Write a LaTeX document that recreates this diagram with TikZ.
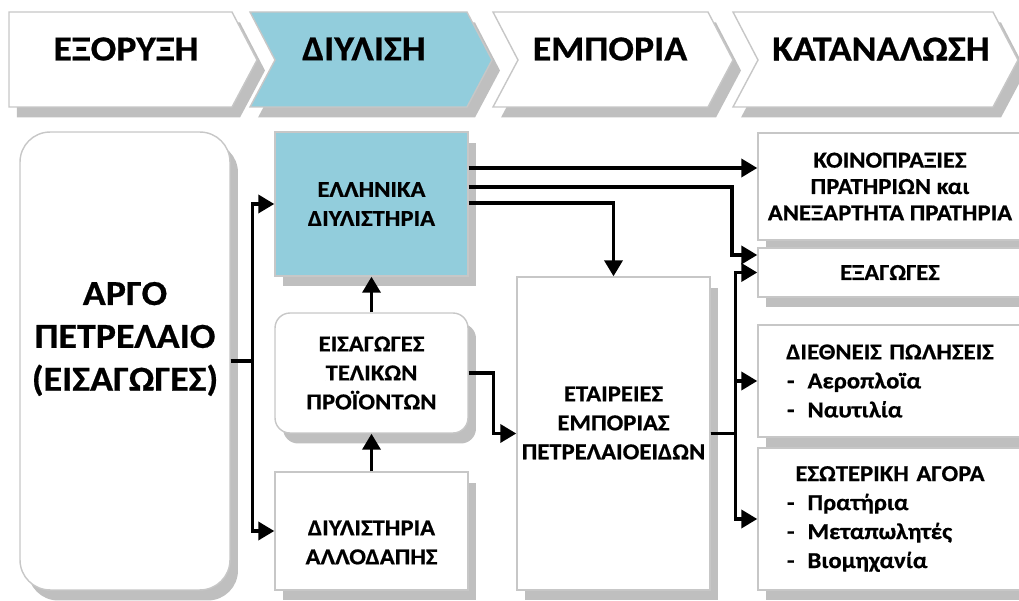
\documentclass[tikz,border=0pt]{standalone}
\usepackage{fontspec}
\setmainfont{Carlito}[BoldFont={Carlito Bold}, BoldFeatures={FakeStretch=1.08, FakeBold=0.6}]
\usetikzlibrary{arrows.meta}
\usetikzlibrary{shadows}
\definecolor{dblue}{HTML}{92CDDC}
\tikzset{
  shad/.style={drop shadow={shadow xshift=1.6mm, shadow yshift=-2.1mm, fill=black!25, opacity=1}},
  chev/.style={draw=black!22, line width=.8pt, fill=white, shad},
  box/.style={draw=black!22, line width=.8pt, fill=white, shad, minimum width=3.86cm, align=center, font=\bfseries\fontsize{13}{16.5}\selectfont},
  rbox/.style={box, minimum width=5.28cm},
  txt/.style={align=center, font=\bfseries\fontsize{13}{16.5}\selectfont},
  head/.style={font=\bfseries\fontsize{20}{24}\selectfont},
  arr/.style={-{Triangle[length=3.2mm,width=3.6mm]}, line width=2pt}
}

\begin{document}
\begin{tikzpicture}[x=0.02cm, y=-0.02cm]
\useasboundingbox (0,0) rectangle (1019,601);
\clip (0,0) rectangle (1019,601);

\path[chev] (9,12) -- (232,12) -- (257,60) -- (232,107) -- (9,107) -- cycle;
\path[chev, fill=dblue] (250,12) -- (467,12) -- (492,60) -- (467,107) -- (250,107) -- (275,60) -- cycle;
\path[chev] (493,12) -- (708,12) -- (733,60) -- (708,107) -- (493,107) -- (518,60) -- cycle;
\path[chev] (733,12) -- (993,12) -- (1018,60) -- (993,107) -- (733,107) -- (758,60) -- cycle;
\node[head] (h1) at (126,49) {ΕΞΟΡΥΞΗ};
\node[head] (h2) at (364,49) {ΔΙΥΛΙΣΗ};
\node[head] (h3) at (610,49) {ΕΜΠΟΡΙΑ};
\node[head] (h4) at (881,49) {ΚΑΤΑΝΑΛΩΣΗ};

\node[box, rounded corners=6mm, minimum width=4.2cm, minimum height=9.16cm] (crude) at (125,361) {};
\node[txt, font=\bfseries\fontsize{20}{24.4}\selectfont] (crudetxt) at ([yshift=4.4mm]crude.center) {ΑΡΓΟ\\ΠΕΤΡΕΛΑΙΟ\\(ΕΙΣΑΓΩΓΕΣ)};

\node[box, fill=dblue, minimum height=2.88cm] (hell) at (371.5,204) {ΕΛΛΗΝΙΚΑ\\ΔΙΥΛΙΣΤΗΡΙΑ};
\node[box, rounded corners=3mm, minimum height=2.4cm] (imp) at (371.5,373) {ΕΙΣΑΓΩΓΕΣ\\ΤΕΛΙΚΩΝ\\ΠΡΟΪΟΝΤΩΝ};
\node[box, minimum height=2.36cm] (abroad) at (371.5,531) {};
\node[txt] (abroadtxt) at ([yshift=-2.3mm]abroad.center) {ΔΙΥΛΙΣΤΗΡΙΑ\\ΑΛΛΟΔΑΠΗΣ};
\node[box, minimum height=6.26cm] (trade) at (613.5,433.5) {};
\node[txt] (tradetxt) at ([yshift=2.1mm]trade.center) {ΕΤΑΙΡΕΙΕΣ\\ΕΜΠΟΡΙΑΣ\\ΠΕΤΡΕΛΑΙΟΕΙΔΩΝ};

\node[rbox, minimum height=2.14cm, font=\bfseries\fontsize{13}{15}\selectfont] (koino) at (890,186.5) {ΚΟΙΝΟΠΡΑΞΙΕΣ\\ΠΡΑΤΗΡΙΩΝ και\\ΑΝΕΞΑΡΤΗΤΑ ΠΡΑΤΗΡΙΑ};
\node[rbox, minimum height=.98cm] (exp) at (890,272.5) {ΕΞΑΓΩΓΕΣ};
\node[rbox, minimum height=2.24cm, text width=4.12cm, align=left] (intl) at (890,381) {\makebox[4.12cm]{ΔΙΕΘΝΕΙΣ ΠΩΛΗΣΕΙΣ}\\-\hspace{2.6mm}Αεροπλοϊα\\-\hspace{2.6mm}Ναυτιλία};
\node[rbox, minimum height=2.84cm, text width=4.12cm, align=left] (dom) at (890,519) {\makebox[4.12cm]{ΕΣΩΤΕΡΙΚΗ ΑΓΟΡΑ}\\-\hspace{2.6mm}Πρατήρια\\-\hspace{2.6mm}Μεταπωλητές\\-\hspace{2.6mm}Βιομηχανία};

\draw[arr] (crude.east) -- ++(22,0) |- (hell.west);
\draw[arr] (crude.east) -- ++(22,0) |- (abroad.west);
\draw[arr] (abroad.north) -- (imp.south);
\draw[arr] (imp.north) -- (hell.south);
\draw[arr] (imp.east) -- ++(25,0) |- (trade.west);
\draw[arr] (hell.east |- 0,168) -- (koino.west |- 0,168);
\draw[arr] (hell.east |- 0,187) -| (732,255) -- (exp.west |- 0,255);
\draw[arr] (hell.east |- 0,203) -| (trade.north);
\draw[arr] (trade.east) -- ++(25,0) |- (exp.west);
\draw[arr] (trade.east) -- ++(25,0) |- (intl.west);
\draw[arr] (trade.east) -- ++(25,0) |- (dom.west);
\end{tikzpicture}
\end{document}
